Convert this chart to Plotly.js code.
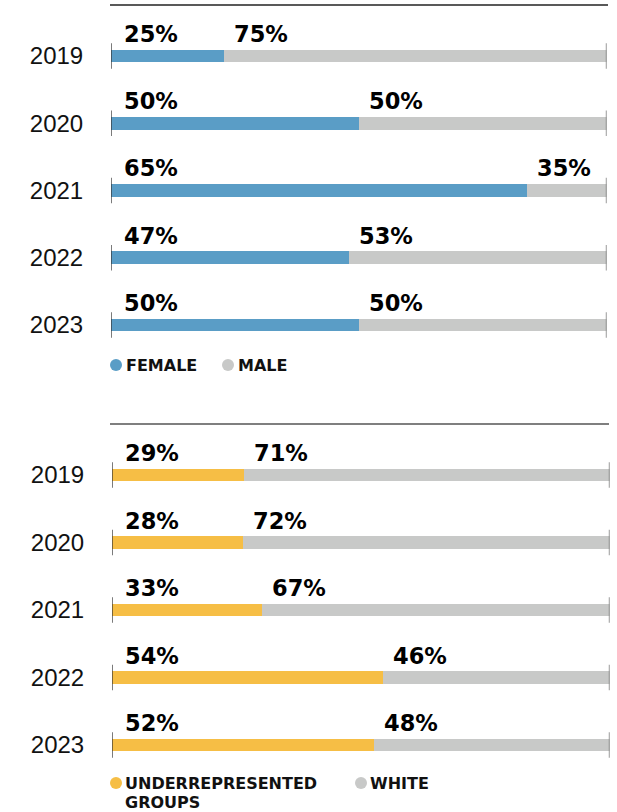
<!DOCTYPE html>
<html>
<head>
<meta charset="utf-8">
<script src="https://cdn.plot.ly/plotly-3.0.1.min.js"></script>
<style>html,body{margin:0;padding:0;background:#fff;}#chart{width:617px;height:812px;}</style>
</head>
<body>
<div id="chart"></div>
<script>
// ---- data ----
const years = ['2019', '2020', '2021', '2022', '2023'];
// bar lengths as drawn in the picture (share of bar, %)
const femaleBar = [22.8, 50, 84, 48, 50];
const maleBar = [77.2, 50, 16, 52, 50];
const femaleLabels = ['25%', '50%', '65%', '47%', '50%'];
const maleLabels = ['75%', '50%', '35%', '53%', '50%'];

const urgBar = [26.5, 26.4, 30.2, 54.5, 52.7];
const whiteBar = [73.5, 73.6, 69.8, 45.5, 47.3];
const urgLabels = ['29%', '28%', '33%', '54%', '52%'];
const whiteLabels = ['71%', '72%', '67%', '46%', '48%'];

const BLUE = '#5a9dc6', YELLOW = '#f6be45', GRAY = '#c8c9c8';
const W = 617, H = 812;
const py = p => 1 - p / H;
const px = p => p / W;

const traces = [
  {type: 'bar', orientation: 'h', y: years, x: femaleBar, xaxis: 'x', yaxis: 'y', marker: {color: BLUE}, width: 0.19, hoverinfo: 'none'},
  {type: 'bar', orientation: 'h', y: years, x: maleBar, xaxis: 'x', yaxis: 'y', marker: {color: GRAY}, width: 0.19, hoverinfo: 'none'},
  {type: 'bar', orientation: 'h', y: years, x: urgBar, xaxis: 'x2', yaxis: 'y2', marker: {color: YELLOW}, width: 0.19, hoverinfo: 'none'},
  {type: 'bar', orientation: 'h', y: years, x: whiteBar, xaxis: 'x2', yaxis: 'y2', marker: {color: GRAY}, width: 0.19, hoverinfo: 'none'}
];

const labelFont = {family: 'DejaVu Sans', size: 22.5, color: '#000', weight: 700};
const legFont = {family: 'DejaVu Sans', size: 16, color: '#111', weight: 700};

const annotations = [];
const shapes = [];
function addLabels(xr, yr, first, firstLab, secondLab) {
  years.forEach((yv, i) => {
    annotations.push({xref: xr, yref: yr, x: 0, y: i, text: firstLab[i], showarrow: false,
      xanchor: 'left', yanchor: 'middle', xshift: 11, yshift: 22, font: labelFont});
    annotations.push({xref: xr, yref: yr, x: first[i], y: i, text: secondLab[i], showarrow: false,
      xanchor: 'left', yanchor: 'middle', xshift: 8, yshift: 22, font: labelFont});
    shapes.push({type: 'line', xref: xr, yref: yr, x0: 0, x1: 0, y0: i - 0.19, y1: i + 0.19,
      line: {color: '#333', width: 1.3}});
    shapes.push({type: 'line', xref: xr, yref: yr, x0: 100, x1: 100, y0: i - 0.19, y1: i + 0.19,
      line: {color: '#666', width: 1.3}});
  });
}
addLabels('x', 'y', femaleBar, femaleLabels, maleLabels);
addLabels('x2', 'y2', urgBar, urgLabels, whiteLabels);

// top rules
shapes.push({type: 'line', xref: 'paper', yref: 'paper', x0: px(110), x1: px(608), y0: py(5), y1: py(5), line: {color: '#222', width: 1.5}});
shapes.push({type: 'line', xref: 'paper', yref: 'paper', x0: px(110), x1: px(609), y0: py(424), y1: py(424), line: {color: '#555', width: 1.5}});

// legends
function legendText(tx, ty, text) {
  annotations.push({xref: 'paper', yref: 'paper', x: px(tx), y: py(ty), text: text, showarrow: false,
    xanchor: 'left', yanchor: 'middle', align: 'left', font: legFont});
}
function legendItem(cx, cy, color, text, tx) {
  shapes.push({type: 'circle', xref: 'paper', yref: 'paper', xsizemode: 'pixel', ysizemode: 'pixel',
    xanchor: px(cx), yanchor: py(cy), x0: -6, x1: 6, y0: -6, y1: 6, fillcolor: color, line: {width: 0}});
  legendText(tx, cy, text);
}
legendItem(116, 365, BLUE, 'FEMALE', 124);
legendItem(228, 365, GRAY, 'MALE', 236);
legendItem(116, 783, YELLOW, 'UNDERREPRESENTED', 123);
legendText(123, 802, 'GROUPS');
legendItem(361, 783, GRAY, 'WHITE', 368);

const yCommon = {type: 'category', showgrid: false, zeroline: false, showline: false,
  ticks: 'outside', ticklen: 22, tickcolor: 'rgba(0,0,0,0)',
  tickfont: {family: 'Liberation Sans, Arial, sans-serif', size: 24, color: '#111'}};
const xCommon = {range: [0, 100], showgrid: false, zeroline: false, showline: false, showticklabels: false, ticks: ''};

const layout = {
  width: W, height: H,
  margin: {l: 0, r: 0, t: 0, b: 0},
  paper_bgcolor: '#fff', plot_bgcolor: 'rgba(0,0,0,0)',
  barmode: 'stack', bargap: 0, showlegend: false,
  xaxis: Object.assign({}, xCommon, {domain: [px(111), px(606.5)], anchor: 'y'}),
  yaxis: Object.assign({}, yCommon, {domain: [py(358), py(5)], range: [4.491, -0.758], anchor: 'x'}),
  xaxis2: Object.assign({}, xCommon, {domain: [px(112), px(609.5)], anchor: 'y2'}),
  yaxis2: Object.assign({}, yCommon, {domain: [py(770), py(424)], range: [4.370, -0.7556], anchor: 'x2'}),
  annotations: annotations,
  shapes: shapes
};

Plotly.newPlot('chart', traces, layout, {staticPlot: true, displayModeBar: false});
</script>
</body>
</html>
